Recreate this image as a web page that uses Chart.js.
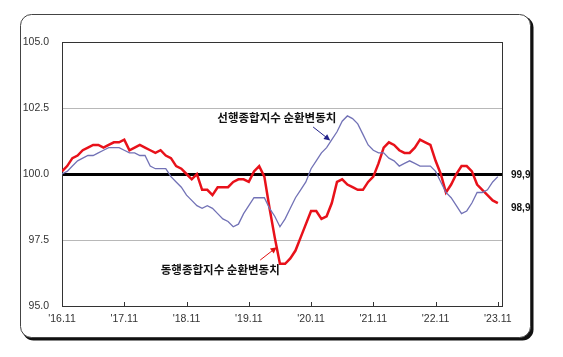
<!DOCTYPE html>
<html>
<head>
<meta charset="utf-8">
<script src="https://cdn.jsdelivr.net/npm/chart.js@4/dist/chart.umd.min.js"></script>
<style>
html,body{margin:0;padding:0;background:#fff;}
#c{display:block;}
</style>
</head>
<body>
<canvas id="c" width="563" height="357"></canvas>
<script>
// ---- data (monthly, '16.11 .. '23.11) ----
const xTickMonths = [0, 12, 24, 36, 48, 60, 72, 84];
const xTickLabels = ["'16.11", "'17.11", "'18.11", "'19.11", "'20.11", "'21.11", "'22.11", "'23.11"];
const yTicks = [95.0, 97.5, 100.0, 102.5, 105.0];

const seriesNames = ["선행종합지수 순환변동치", "동행종합지수 순환변동치"];

// 선행종합지수 순환변동치 (leading)
const leadingValues = [
  100.0, 100.1, 100.3, 100.5, 100.6, 100.7, 100.7, 100.8, 100.9, 101.0, 101.0, 101.0,
  100.9, 100.8, 100.8, 100.7, 100.7, 100.3, 100.2, 100.2, 100.2, 99.9, 99.7, 99.5,
  99.2, 99.0, 98.8, 98.7, 98.8, 98.7, 98.5, 98.3, 98.2, 98.0, 98.1, 98.5,
  98.8, 99.1, 99.1, 99.1, 98.7, 98.4, 98.0, 98.3, 98.7, 99.1, 99.4, 99.7,
  100.2, 100.5, 100.8, 101.0, 101.3, 101.6, 102.0, 102.2, 102.1, 101.9, 101.5, 101.1,
  100.9, 100.8, 100.8, 100.6, 100.5, 100.3, 100.4, 100.5, 100.4, 100.3, 100.3, 100.3,
  100.1, 99.7, 99.3, 99.1, 98.8, 98.5, 98.6, 98.9, 99.3, 99.3, 99.4, 99.7,
  99.9
];

// 동행종합지수 순환변동치 (coincident)
const coincidentValues = [
  100.1, 100.3, 100.6, 100.7, 100.9, 101.0, 101.1, 101.1, 101.0, 101.1, 101.2, 101.2,
  101.3, 100.9, 101.0, 101.1, 101.0, 100.9, 100.8, 100.9, 100.7, 100.6, 100.3, 100.2,
  100.0, 99.8, 100.0, 99.4, 99.4, 99.2, 99.5, 99.5, 99.5, 99.7, 99.8, 99.8,
  99.7, 100.1, 100.3, 99.9, 98.7, 97.6, 96.6, 96.6, 96.8, 97.1, 97.6, 98.1,
  98.6, 98.6, 98.3, 98.4, 98.9, 99.7, 99.8, 99.6, 99.5, 99.4, 99.4, 99.7,
  99.9, 100.4, 101.0, 101.2, 101.1, 100.9, 100.8, 100.8, 101.0, 101.3, 101.2, 101.1,
  100.5, 100.0, 99.3, 99.6, 100.0, 100.3, 100.3, 100.1, 99.6, 99.4, 99.2, 99.0,
  98.9
];

// annotation anchors in data units (month index, value)
const leadingLabelAt = [41.4, 102.12];
const coincidentLabelAt = [30.5, 96.36];
const leadingArrow = [[48.4, 101.78], [51.7, 101.27]];
const coincidentArrow = [[38.2, 96.74], [41.4, 97.23]];

const FONT = '"Liberation Sans", Arial, "Noto Sans CJK KR", sans-serif';
const KFONT = '"Noto Sans CJK KR", "Liberation Sans", sans-serif';

function fmtEnd(v) { return v.toFixed(1).replace('.', ','); }

const framePlugin = {
  id: 'frame',
  beforeDraw(chart) {
    const ctx = chart.ctx;
    ctx.save();
    ctx.fillStyle = '#fff';
    ctx.fillRect(0, 0, chart.width, chart.height);
    // shadow
    ctx.beginPath();
    ctx.roundRect(22.5, 16.5, 511, 324, 11);
    ctx.fillStyle = '#111';
    ctx.fill();
    // frame
    ctx.beginPath();
    ctx.roundRect(20.5, 14.5, 510, 323, 11);
    ctx.fillStyle = '#fff';
    ctx.fill();
    ctx.strokeStyle = '#444';
    ctx.lineWidth = 1;
    ctx.stroke();
    ctx.restore();
  },
  beforeDatasetsDraw(chart) {
    const ctx = chart.ctx, a = chart.chartArea;
    const xs = chart.scales.x;
    ctx.save();
    ctx.strokeStyle = '#333';
    ctx.lineWidth = 1;
    ctx.strokeRect(Math.round(a.left) + 0.5, Math.round(a.top) + 0.5,
                   Math.round(a.right - a.left), Math.round(a.bottom - a.top));
    // inward tick marks on x axis
    ctx.beginPath();
    xTickMonths.forEach(m => {
      const px = Math.round(xs.getPixelForValue(m)) + 0.5;
      ctx.moveTo(px, a.bottom);
      ctx.lineTo(px, a.bottom - 4);
    });
    ctx.stroke();
    ctx.restore();
  },
  afterDatasetsDraw(chart) {
    const ctx = chart.ctx, a = chart.chartArea;
    const xs = chart.scales.x, ys = chart.scales.y;
    const P = (p) => [xs.getPixelForValue(p[0]), ys.getPixelForValue(p[1])];
    ctx.save();
    // series labels
    ctx.font = 'bold 11.5px ' + KFONT;
    ctx.fillStyle = '#111';
    ctx.textAlign = 'center';
    ctx.textBaseline = 'middle';
    let p = P(leadingLabelAt);
    ctx.fillText(seriesNames[0], p[0], p[1]);
    p = P(coincidentLabelAt);
    ctx.fillText(seriesNames[1], p[0], p[1]);
    // arrows
    function arrow(pts, color) {
      const s = P(pts[0]), e = P(pts[1]);
      const ang = Math.atan2(e[1] - s[1], e[0] - s[0]);
      ctx.strokeStyle = color;
      ctx.fillStyle = color;
      ctx.lineWidth = 1;
      ctx.beginPath();
      ctx.moveTo(s[0], s[1]);
      ctx.lineTo(e[0] - 4 * Math.cos(ang), e[1] - 4 * Math.sin(ang));
      ctx.stroke();
      ctx.beginPath();
      ctx.moveTo(e[0], e[1]);
      ctx.lineTo(e[0] - 7 * Math.cos(ang - 0.45), e[1] - 7 * Math.sin(ang - 0.45));
      ctx.lineTo(e[0] - 7 * Math.cos(ang + 0.45), e[1] - 7 * Math.sin(ang + 0.45));
      ctx.closePath();
      ctx.fill();
    }
    arrow(leadingArrow, '#22228a');
    arrow(coincidentArrow, '#e01010');
    // end value labels
    ctx.font = 'bold 10px ' + FONT;
    ctx.fillStyle = '#111';
    ctx.textAlign = 'left';
    const lastL = leadingValues[leadingValues.length - 1];
    const lastC = coincidentValues[coincidentValues.length - 1];
    ctx.fillText(fmtEnd(lastL), a.right + 9, ys.getPixelForValue(lastL) - 1);
    ctx.fillText(fmtEnd(lastC), a.right + 9, ys.getPixelForValue(lastC) + 5);
    ctx.restore();
  }
};

new Chart(document.getElementById('c'), {
  type: 'line',
  data: {
    datasets: [
      {
        label: seriesNames[0],
        data: leadingValues.map((v, i) => ({ x: i, y: v })),
        borderColor: '#7272b6',
        borderWidth: 1.3,
        pointRadius: 0,
        tension: 0,
        fill: false
      },
      {
        label: seriesNames[1],
        data: coincidentValues.map((v, i) => ({ x: i, y: v })),
        borderColor: '#e8111a',
        borderWidth: 2.5,
        pointRadius: 0,
        tension: 0,
        fill: false
      }
    ]
  },
  options: {
    responsive: false,
    animation: false,
    devicePixelRatio: 1,
    layout: { padding: { left: 0, right: 61, top: 42, bottom: 0 } },
    plugins: { legend: { display: false }, tooltip: { enabled: false } },
    scales: {
      x: {
        type: 'linear',
        min: 0,
        max: 84.8,
        afterBuildTicks: s => { s.ticks = xTickMonths.map(v => ({ value: v })); },
        afterFit: s => { s.height = 51; },
        grid: { display: false, drawTicks: false },
        border: { display: false },
        ticks: {
          autoSkip: false,
          maxRotation: 0,
          padding: 7,
          color: '#333',
          font: { family: FONT, size: 10.5 },
          callback: v => xTickLabels[xTickMonths.indexOf(v)]
        }
      },
      y: {
        min: 95,
        max: 105,
        afterBuildTicks: s => { s.ticks = yTicks.map(v => ({ value: v })); },
        afterFit: s => { s.width = 62; },
        grid: {
          drawTicks: false,
          color: c => c.tick && c.tick.value === 100 ? '#000' : '#b8b8b8',
          lineWidth: c => c.tick && c.tick.value === 100 ? 3 : 1
        },
        border: { display: false },
        ticks: {
          padding: 13,
          color: '#333',
          font: { family: FONT, size: 10.5 },
          callback: v => Number(v).toFixed(1)
        }
      }
    }
  },
  plugins: [framePlugin]
});
</script>
</body>
</html>
